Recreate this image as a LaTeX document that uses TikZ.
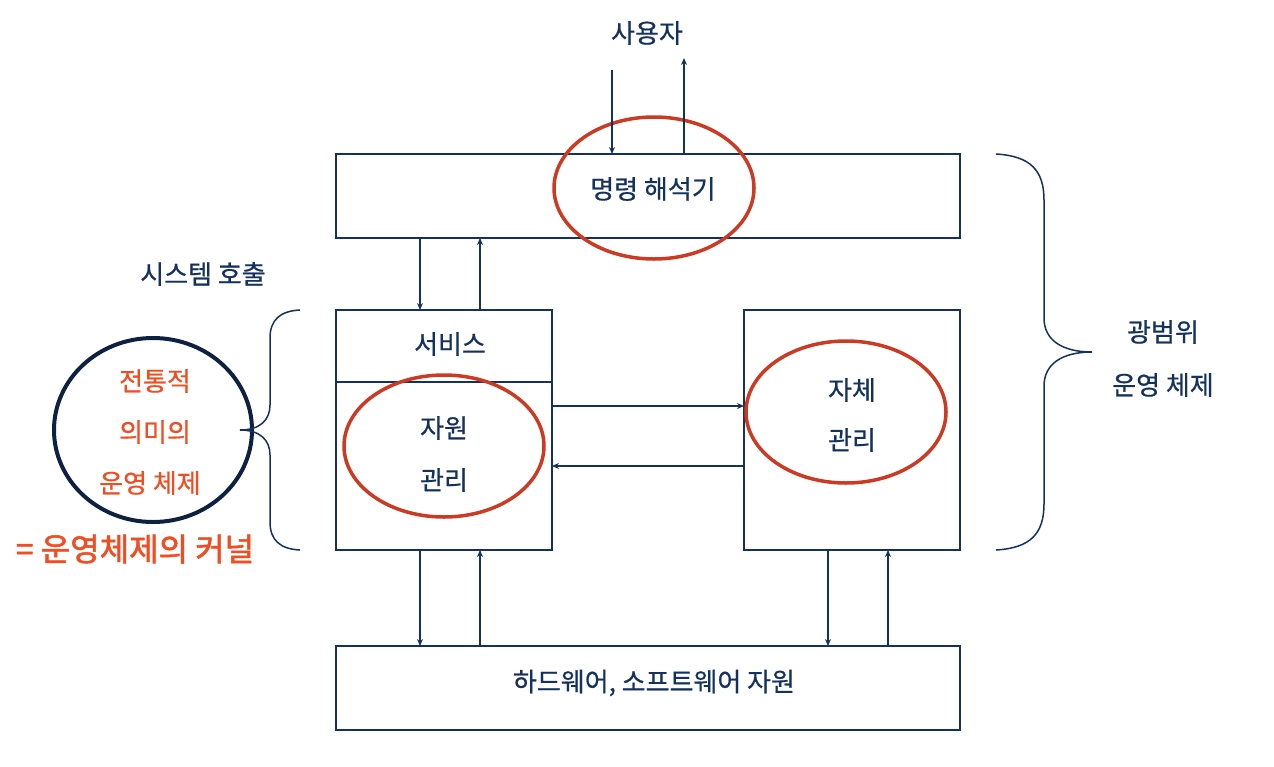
\documentclass[tikz,border=0pt]{standalone}
\usepackage{fontspec}
\setmainfont{Noto Sans CJK KR}
\newfontfamily\kfont[FakeBold=0.6]{Noto Sans CJK KR}
\newfontfamily\kbold[FakeBold=1.6]{Noto Sans CJK KR}
\usetikzlibrary{arrows.meta}
\definecolor{navy}{HTML}{15325F}
\definecolor{darknavy}{HTML}{0E2141}
\definecolor{ered}{HTML}{CB3A22}
\definecolor{otext}{HTML}{F24D22}
\tikzset{
  box/.style={draw=navy, line width=2pt, inner sep=0pt},
  lbl/.style={text=navy, font=\kfont\fontsize{26}{30}\selectfont, inner sep=0pt},
  olbl/.style={text=otext, font=\kfont\fontsize{26}{30}\selectfont, inner sep=0pt},
  conn/.style={draw=navy, line width=1.5pt, -{Stealth[length=7pt,width=6pt]}},
  brace/.style={draw=navy, line width=1.5pt},
}
\begin{document}
\begin{tikzpicture}[x=1pt,y=-1pt]
\useasboundingbox (0,0) rectangle (1274,766);
\fill[white] (0,0) rectangle (1274,766);

% boxes
\draw[box] (336,154) rectangle (960,238);
\draw[box] (336,310) rectangle (552,550);
\draw[box] (336,382) -- (552,382);
\draw[box] (744,310) rectangle (960,550);
\draw[box] (336,646) rectangle (960,730);

% labels
\node[lbl] (user) at (647,33) {사용자};
\node[lbl] (cmd) at (653,189) {명령 해석기};
\node[lbl] (svc) at (450,344) {서비스};
\node[lbl] (res1) at (444,428) {자원};
\node[lbl] (res2) at (444,480) {관리};
\node[lbl] (self1) at (852,390) {자체};
\node[lbl] (self2) at (852,440) {관리};
\node[lbl] (hw) at (654,683) {하드웨어, 소프트웨어 자원};
\node[lbl] (syscall) at (203,274) {시스템 호출};
\node[lbl] (wide1) at (1163,332) {광범위};
\node[lbl] (wide2) at (1163,385) {운영 체제};

% red ellipses
\draw[ered, line width=3.5pt] (654,188) ellipse [x radius=100, y radius=71];
\draw[ered, line width=3.5pt] (444,446) ellipse [x radius=100, y radius=71];
\draw[ered, line width=3.5pt] (846,412) ellipse [x radius=100, y radius=71];

% traditional OS circle
\draw[darknavy, line width=4pt] (153,430) ellipse [x radius=99, y radius=92];
\node[olbl] (t1) at (155,381) {전통적};
\node[olbl] (t2) at (155,432) {의미의};
\node[olbl] (t3) at (150,483) {운영 체제};
\node[text=otext, font=\kbold\fontsize{32}{36}\selectfont, inner sep=0pt] (kern) at (135,549) {= 운영체제의 커널};

% connectors
\coordinate (u1) at (612,70);
\coordinate (u1e) at (612,154);
\coordinate (u2) at (684,154);
\coordinate (u2e) at (684,58);
\draw[conn] (u1) -- (u1e);
\draw[conn] (u2) -- (u2e);

\coordinate (a1s) at (420,238); \coordinate (a1e) at (420,310);
\coordinate (a2s) at (480,310); \coordinate (a2e) at (480,238);
\draw[conn] (a1s) -- (a1e);
\draw[conn] (a2s) -- (a2e);

\coordinate (h1s) at (552,406); \coordinate (h1e) at (744,406);
\coordinate (h2s) at (744,466); \coordinate (h2e) at (552,466);
\draw[conn] (h1s) -- (h1e);
\draw[conn] (h2s) -- (h2e);

\coordinate (b1s) at (420,550); \coordinate (b1e) at (420,646);
\coordinate (b2s) at (480,646); \coordinate (b2e) at (480,550);
\coordinate (b3s) at (828,550); \coordinate (b3e) at (828,646);
\coordinate (b4s) at (888,646); \coordinate (b4e) at (888,550);
\draw[conn] (b1s) -- (b1e);
\draw[conn] (b2s) -- (b2e);
\draw[conn] (b3s) -- (b3e);
\draw[conn] (b4s) -- (b4e);

% right brace
\draw[brace] (996,154) .. controls (1030,156) and (1044,170) .. (1044,200)
  -- (1044,318) .. controls (1044,340) and (1062,352) .. (1092,352)
  .. controls (1062,352) and (1044,364) .. (1044,386)
  -- (1044,504) .. controls (1044,534) and (1030,548) .. (996,550);

% left brace
\draw[brace] (300,310) .. controls (280,311) and (270,320) .. (270,338)
  -- (270,405) .. controls (270,420) and (260,430) .. (240,430)
  .. controls (260,430) and (270,440) .. (270,455)
  -- (270,522) .. controls (270,540) and (280,549) .. (300,550);
\end{tikzpicture}
\end{document}
